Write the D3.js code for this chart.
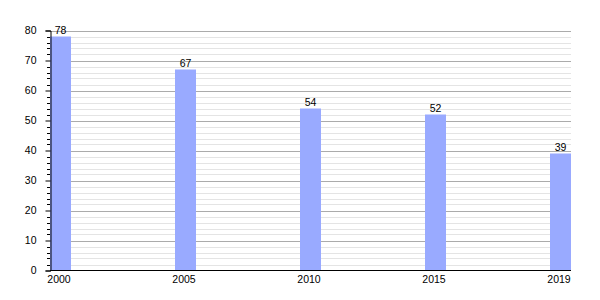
<!DOCTYPE html>
<html><head><meta charset="utf-8">
<script src="https://cdn.jsdelivr.net/npm/d3@7"></script>
<style>
html,body{margin:0;padding:0;background:#fff;}
text{font-family:"Liberation Sans",Arial,sans-serif;font-size:10.5px;fill:#000;}
</style></head>
<body>
<svg id="c" width="600" height="300"></svg>
<script>
const categories = ["2000","2005","2010","2015","2019"];
const values = [78, 67, 54, 52, 39];
const yMajorTicks = [0,10,20,30,40,50,60,70,80];

(function(){
const svg = d3.select("#c");
const mLeft = 50, mRight = 571, mTop = 30.5, mBottom = 270.5;
const y = d3.scaleLinear().domain([0,80]).range([mBottom, mTop]);
const x = d3.scaleBand().domain(categories).range([mLeft, mLeft + 125*categories.length]).paddingInner(0).paddingOuter(0);
const barW = 21;

const minor = d3.range(2, 80, 2).filter(v => v % 10 !== 0);
svg.append("g").selectAll("line").data(minor).join("line")
  .attr("x1", mLeft).attr("x2", mRight)
  .attr("y1", d => Math.round(y(d)) + 0.5).attr("y2", d => Math.round(y(d)) + 0.5)
  .attr("stroke", "#e4e4e4").attr("stroke-width", 1);
svg.append("g").selectAll("line").data(yMajorTicks.filter(v => v > 0)).join("line")
  .attr("x1", mLeft).attr("x2", mRight)
  .attr("y1", d => Math.round(y(d)) + 0.5).attr("y2", d => Math.round(y(d)) + 0.5)
  .attr("stroke", "#ababab").attr("stroke-width", 1);

svg.append("g").selectAll("rect").data(values).join("rect")
  .attr("x", (d,i) => x(categories[i]))
  .attr("width", barW)
  .attr("y", d => y(d))
  .attr("height", d => mBottom - y(d))
  .attr("fill", "#99aaff");

svg.append("g").selectAll("text").data(values).join("text")
  .attr("x", (d,i) => x(categories[i]) + barW/2)
  .attr("y", d => y(d) - 3)
  .attr("text-anchor", "middle")
  .text(d => d);

const yAxis = d3.axisLeft(y).tickValues(yMajorTicks).tickSize(5).tickPadding(9);
const gy = svg.append("g").attr("transform", `translate(${mLeft+0.5},0)`).call(yAxis);
gy.select(".domain").attr("stroke", "#000");
gy.selectAll(".tick line").attr("stroke", "#000");
gy.selectAll(".tick text").attr("font-family", "Liberation Sans, Arial, sans-serif").attr("font-size", 10.5).attr("fill", "#000");
svg.append("g").selectAll("line").data(minor).join("line")
  .attr("x1", mLeft - 3).attr("x2", mLeft)
  .attr("y1", d => Math.round(y(d)) + 0.5).attr("y2", d => Math.round(y(d)) + 0.5)
  .attr("stroke", "#000");

svg.append("line").attr("x1", mLeft).attr("x2", mRight)
  .attr("y1", mBottom).attr("y2", mBottom).attr("stroke", "#000");
svg.append("g").selectAll("text").data(categories).join("text")
  .attr("x", d => x(d) + barW/2 - 1.5)
  .attr("y", mBottom + 12)
  .attr("text-anchor", "middle")
  .text(d => d);
})();
</script>
</body></html>
